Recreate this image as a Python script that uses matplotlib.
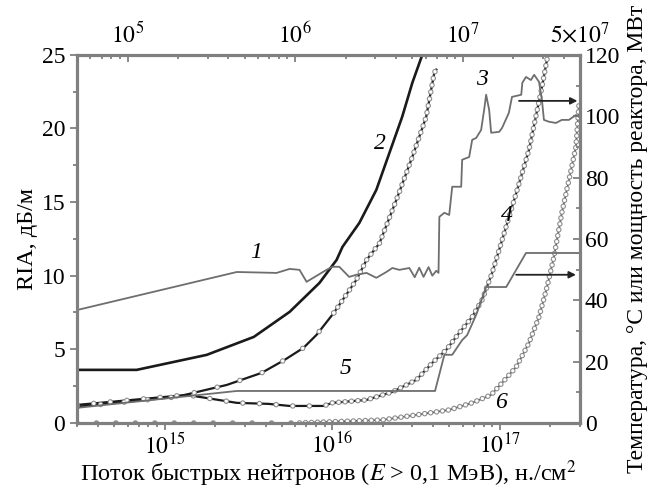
import numpy as np
import matplotlib
matplotlib.use("Agg")
import matplotlib.pyplot as plt
from matplotlib.ticker import FixedLocator, MultipleLocator, LogLocator, NullFormatter

plt.rcParams['font.family'] = ['Liberation Serif', 'DejaVu Serif']
plt.rcParams['mathtext.fontset'] = 'stix'
plt.rcParams['lines.scale_dashes'] = False

# ---------------- data ----------------
# Curve 2: black solid line, RIA (dB/m)
c2_flux = [3.0e14, 6.8e14, 1.78e15, 3.40e15, 5.56e15, 8.38e15, 1.06e16, 1.15e16,
           1.45e16, 1.83e16, 2.19e16, 2.61e16, 3.00e16, 3.44e16]
c2_ria = [3.6, 3.6, 4.62, 5.84, 7.54, 9.51, 11.07, 11.96, 13.59, 15.83, 18.34,
          20.79, 23.1, 25.0]

# Unlabelled black line with circles, RIA
ca_flux = [3.0e14, 1.18e15, 2.35e15, 3.79e15, 5.19e15, 6.73e15, 8.05e15, 1.02e16,
           1.39e16, 1.60e16, 1.91e16, 2.41e16, 3.00e16, 3.63e16, 4.06e16, 4.17e16]
ca_ria = [1.09, 1.77, 2.58, 3.40, 4.28, 5.10, 5.98, 7.47, 9.71, 11.07, 12.2,
          15.15, 18.07, 20.79, 23.8, 24.0]

# Curve 4: black line with circles, RIA
c4_flux = [3.0e14, 1.36e15, 2.69e15, 4.17e15, 5.56e15, 8.86e15, 1.00e16, 1.60e16,
           2.28e16, 3.17e16, 3.95e16, 4.78e16, 5.71e16, 6.83e16, 7.83e16, 8.98e16,
           9.89e16, 1.25e17, 1.49e17, 1.78e17, 1.93e17]
c4_ria = [1.22, 1.90, 1.36, 1.29, 1.15, 1.15, 1.36, 1.56, 2.1, 2.92, 4.08, 4.96,
          6.11, 7.2, 8.36, 10.19, 11.75, 15.6, 18.55, 22.8, 25.0]

# Curve 6: dense circles, RIA
c6_flux = [3.0e14, 6.37e15, 1.99e16, 3.17e16, 4.98e16, 6.83e16, 8.86e16, 1.03e17,
           1.25e17, 1.49e17, 1.71e17, 1.91e17, 2.10e17, 2.34e17, 2.58e17, 2.84e17,
           2.96e17]
c6_ria = [0.0, 0.0, 0.2, 0.54, 0.88, 1.36, 1.9, 2.72, 3.8, 5.43, 7.2, 9.24, 11.28,
          14.27, 16.5, 18.75, 21.6]

# Curves 1 / 3: gray line, temperature (deg C)
t_flux = [3.0e14, 2.69e15, 4.65e15, 5.56e15, 6.37e15, 7.02e15, 9.23e15, 1.00e16,
          1.10e16, 1.26e16, 1.39e16, 1.60e16, 1.83e16, 2.10e16, 2.28e16, 2.51e16,
          2.88e16, 3.10e16, 3.30e16, 3.50e16, 3.75e16, 3.95e16, 4.17e16, 4.30e16,
          4.35e16, 4.66e16, 4.98e16, 5.19e16, 5.87e16, 5.95e16, 6.55e16, 6.83e16,
          7.21e16, 7.72e16, 8.05e16, 8.27e16, 8.62e16, 8.86e16, 9.89e16, 1.03e17,
          1.13e17, 1.18e17, 1.34e17, 1.36e17, 1.43e17, 1.53e17, 1.60e17, 1.71e17,
          1.78e17, 1.83e17, 1.96e17, 2.16e17, 2.34e17, 2.58e17, 2.84e17, 2.96e17]
t_temp = [36.8, 49.2, 48.9, 50.2, 49.9, 46.0, 49.9, 50.9, 50.9, 47.6, 48.3, 48.9,
          47.3, 49.2, 50.5, 49.9, 50.5, 47.5, 50.6, 47.6, 50.8, 48.0, 49.6, 48.9,
          67.2, 68.5, 67.8, 77.0, 77.0, 85.8, 86.7, 92.3, 92.9, 95.5, 102.1, 107.0,
          102.1, 94.6, 94.9, 96.2, 101.1, 106.3, 107.0, 110.9, 112.8, 111.8, 113.5,
          111.2, 105.3, 98.8, 98.2, 97.8, 98.8, 98.8, 100.4, 99.8]

# Curve 5: gray step line, reactor power (MW)
p_flux = [3.0e14, 2.69e15, 4.10e16, 4.66e16, 5.19e16, 5.95e16, 6.37e16, 7.21e16,
          8.27e16, 1.09e17, 1.43e17, 2.96e17]
p_mw = [4.9, 10.4, 10.4, 22.2, 22.2, 27.0, 28.6, 35.2, 44.3, 44.3, 55.4, 55.4]

# Arrows (right axis), labels
arrow_temp = [105.0, 48.3]
arrow_from = [1.30e17, 1.25e17]
arrow_to = [2.90e17, 2.84e17]

lbl_text = ['1', '2', '3', '4', '5', '6']
lbl_flux = [3.53e15, 1.91e16, 7.83e16, 1.10e17, 1.20e16, 1.02e17]
lbl_ria = [11.55, 19.0, 23.3, 14.1, 3.67, 1.36]

top_ticks = [1e5, 1e6, 1e7, 5e7]
top_labels = [r'$10^5$', r'$10^6$', r'$10^7$', r'$5{\times}10^7$']
bot_ticks = [1e15, 1e16, 1e17]
bot_labels = [r'$10^{15}$', r'$10^{16}$', r'$10^{17}$']

# ---------------- figure ----------------
fig = plt.figure(figsize=(6.59, 4.9), dpi=100)
ax = fig.add_axes([0.117, 0.137, 0.763, 0.751])
axr = ax.twinx()
axt = ax.twiny()

spine_c = '#808080'
FS = 17
FL = 17.5

ax.set_xscale('log')
ax.set_xlim(3e14, 3e17)
ax.set_ylim(0, 25)
axr.set_xscale('log')
axr.set_xlim(3e14, 3e17)
axr.set_ylim(0, 120)
axt.set_xscale('log')
axt.set_xlim(5e4, 5e7)

dark = '#1a1a1a'
gray = '#6e6e6e'


def beads(axis, x, y, spacing, z=4):
    """Open-circle markers drawn as a dotted ring style along the line."""
    ls = (0, (0.01, spacing))
    axis.plot(x, y, color='#8c8c8c', lw=4.0, linestyle=ls,
              dash_capstyle='round', zorder=z)
    axis.plot(x, y, color='white', lw=2.4, linestyle=ls,
              dash_capstyle='round', zorder=z + 0.1)


ax.plot(c2_flux, c2_ria, color=dark, lw=1.9, zorder=3)

ax.plot(ca_flux, ca_ria, color=dark, lw=1.6, zorder=3)
beads(ax, ca_flux[:8], ca_ria[:8], 17)
beads(ax, ca_flux[7:], ca_ria[7:], 5)

ax.plot(c4_flux, c4_ria, color=dark, lw=1.6, zorder=3)
beads(ax, c4_flux[:7], c4_ria[:7], 12)
beads(ax, c4_flux[6:], c4_ria[6:], 4.6)

ax.plot(c6_flux, c6_ria, color='#4a4a4a', lw=1.2, zorder=3)
beads(ax, c6_flux[:2], c6_ria[:2], 14)
beads(ax, c6_flux[1:], c6_ria[1:], 4.3)

axr.plot(t_flux, t_temp, color=gray, lw=1.3)
axr.plot(p_flux, p_mw, color=gray, lw=1.3)
for yv, x0, x1 in zip(arrow_temp, arrow_from, arrow_to):
    axr.annotate('', xy=(x1, yv), xytext=(x0, yv),
                 arrowprops=dict(arrowstyle='-|>', color='#222222', lw=1.3,
                                 mutation_scale=10, shrinkA=0, shrinkB=0))

for t, xv, yv in zip(lbl_text, lbl_flux, lbl_ria):
    ax.text(xv, yv, t, fontsize=FS, style='italic', ha='center', va='center',
            zorder=6)

# ticks
ax.xaxis.set_major_locator(FixedLocator(bot_ticks))
ax.set_xticklabels(bot_labels)
ax.xaxis.set_minor_locator(LogLocator(base=10, subs=np.arange(2, 10)))
ax.xaxis.set_minor_formatter(NullFormatter())
ax.yaxis.set_major_locator(MultipleLocator(5))
ax.yaxis.set_minor_locator(MultipleLocator(2.5))
axr.yaxis.set_major_locator(MultipleLocator(20))
axr.yaxis.set_minor_locator(MultipleLocator(10))
axt.xaxis.set_major_locator(FixedLocator(top_ticks))
axt.set_xticklabels(top_labels)
axt.xaxis.set_minor_locator(LogLocator(base=10, subs=np.arange(2, 10)))
axt.xaxis.set_minor_formatter(NullFormatter())

ax.tick_params(axis='both', which='both', direction='out', color=spine_c,
               labelsize=FS, width=1.3)
ax.tick_params(which='major', length=5)
ax.tick_params(which='minor', length=3)
ax.tick_params(axis='x', pad=2)
axr.tick_params(axis='y', which='both', direction='in', color=spine_c,
                labelsize=FS, width=1.3)
axr.tick_params(which='major', length=5)
axr.tick_params(which='minor', length=3)
axt.tick_params(axis='x', which='both', direction='in', color=spine_c,
                labelsize=FS, width=1.3, pad=5)
axt.tick_params(which='major', length=5)
axt.tick_params(which='minor', length=3)

for a in (ax, axr, axt):
    for s in a.spines.values():
        s.set_color(spine_c)
        s.set_linewidth(2.2)

ax.set_xlabel('Поток быстрых нейтронов ($E$ > 0,1 МэВ), н./см$^2$', fontsize=FL,
              labelpad=0)
ax.set_ylabel('RIA, дБ/м', fontsize=FL, labelpad=3)
axr.set_ylabel('Температура, °С или мощность реактора, МВт', fontsize=17,
               labelpad=5)

fig.savefig('out.png', dpi=100)
